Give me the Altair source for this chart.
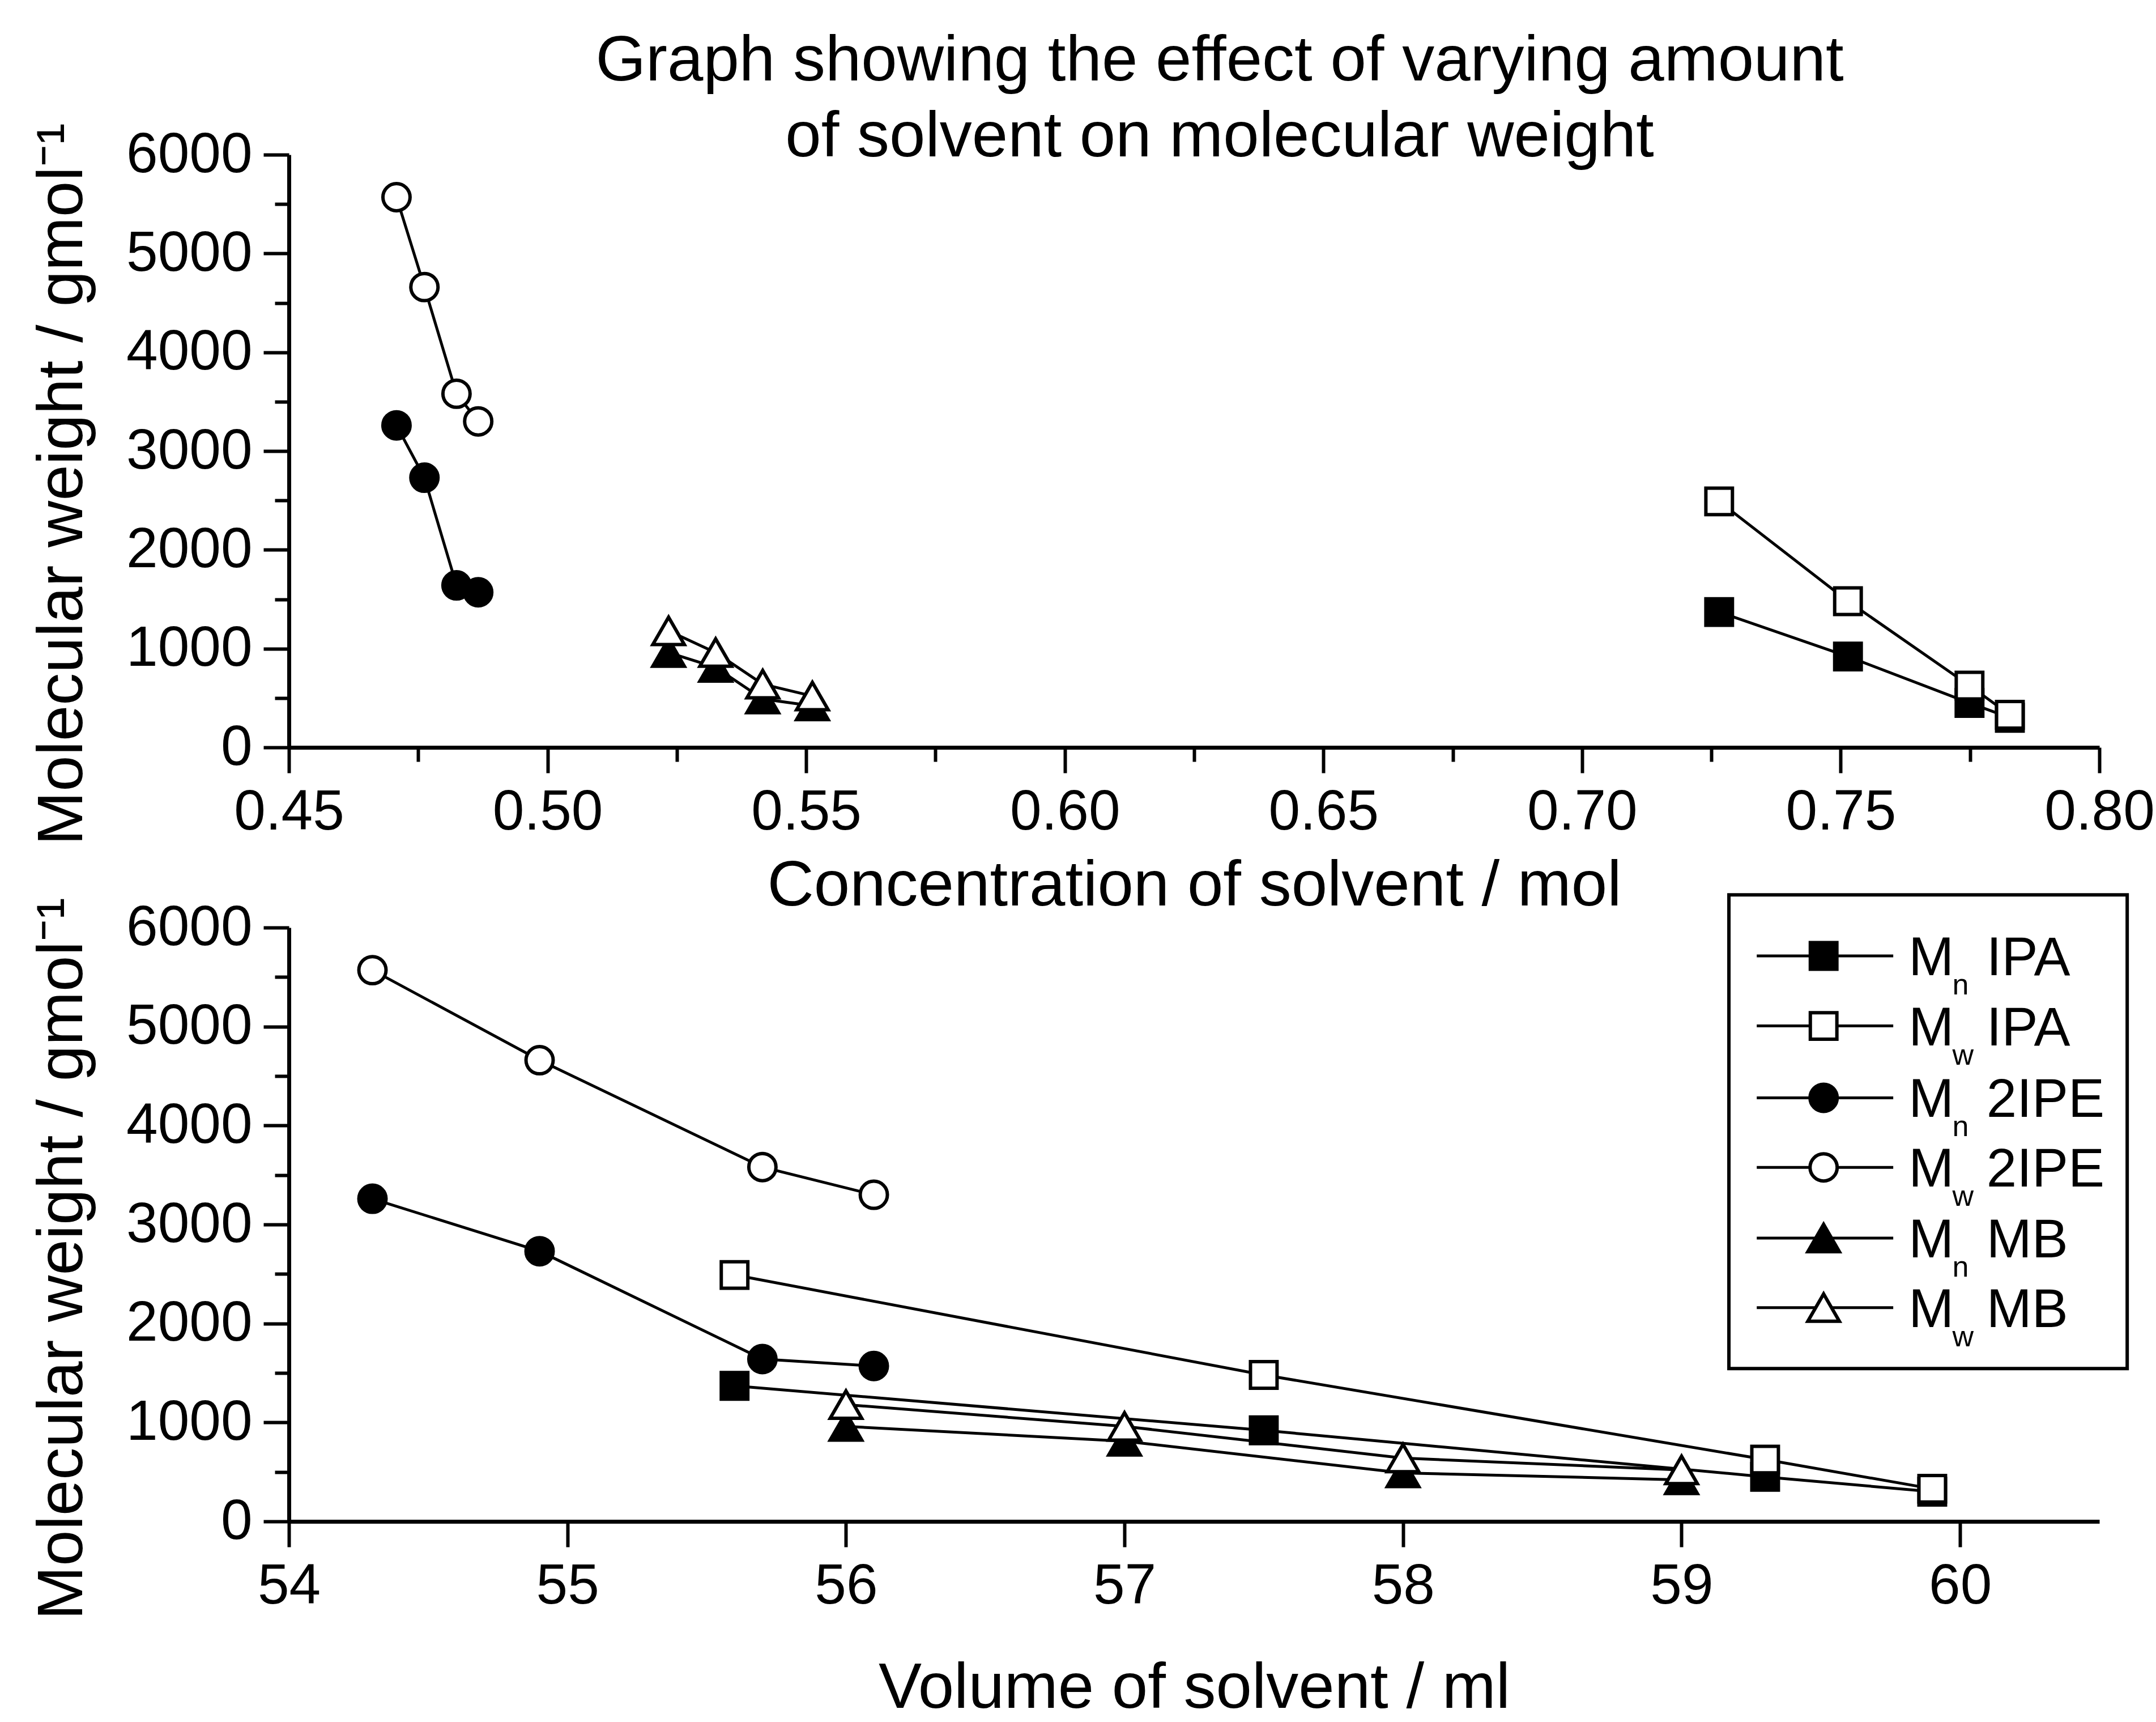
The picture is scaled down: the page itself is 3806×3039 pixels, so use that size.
import altair as alt
import pandas as pd

# ---------------- data ----------------
SERIES = ["Mn IPA", "Mw IPA", "Mn 2IPE", "Mw 2IPE", "Mn MB", "Mw MB"]
SUBSCRIPT = ["n", "w", "n", "w", "n", "w"]
SOLVENT = ["IPA", "IPA", "2IPE", "2IPE", "MB", "MB"]
SHAPES = ["square", "square", "circle", "circle", "triangle-up", "triangle-up"]
FILLS = ["black", "white", "black", "white", "black", "white"]

# concentration of solvent / mol
conc_ipa = [0.7265, 0.7514, 0.7749, 0.7827]
conc_2ipe = [0.4708, 0.4762, 0.4824, 0.4866]
conc_mb = [0.5234, 0.5325, 0.5416, 0.5512]

# volume of solvent / ml
vol_ipa = [55.6, 57.5, 59.3, 59.9]
vol_2ipe = [54.3, 54.9, 55.7, 56.1]
vol_mb = [56.0, 57.0, 58.0, 59.0]

# molecular weight / g mol-1
mn_ipa = [1370, 920, 450, 300]
mw_ipa = [2490, 1480, 625, 330]
mn_2ipe = [3260, 2730, 1640, 1570]
mw_2ipe = [5570, 4660, 3580, 3300]
mn_mb = [960, 810, 490, 420]
mw_mb = [1180, 960, 640, 520]

TOP_X_TICKS = [0.45, 0.475, 0.5, 0.525, 0.55, 0.575, 0.6, 0.625, 0.65,
               0.675, 0.7, 0.725, 0.75, 0.775, 0.8]
BOT_X_TICKS = [54, 54.5, 55, 55.5, 56, 56.5, 57, 57.5, 58, 58.5, 59, 59.5, 60, 60.5]
Y_TICKS = [0, 500, 1000, 1500, 2000, 2500, 3000, 3500, 4000, 4500, 5000, 5500, 6000]

# legend layout (in bottom-panel data units)
LEG_ROWS_Y = [5714, 5006, 4280, 3577, 2863, 2160]
LEG_BOX = dict(x=59.17, x2=60.60, y=6330, y2=1545)
LEG_LINE_X = (59.27, 59.76)
LEG_MARK_X = 59.51
LEG_M_X = 59.815
LEG_SUB_X = 59.972
LEG_TXT_X = 60.095

FONT = "Liberation Sans"
BIG = 114
TICK = 100

conc = {"IPA": conc_ipa, "2IPE": conc_2ipe, "MB": conc_mb}
vol = {"IPA": vol_ipa, "2IPE": vol_2ipe, "MB": vol_mb}
mw_vals = {"Mn IPA": mn_ipa, "Mw IPA": mw_ipa, "Mn 2IPE": mn_2ipe,
           "Mw 2IPE": mw_2ipe, "Mn MB": mn_mb, "Mw MB": mw_mb}


def table(xsrc):
    rows = []
    for s, solv in zip(SERIES, SOLVENT):
        for xv, yv in zip(xsrc[solv], mw_vals[s]):
            rows.append({"series": s, "x": xv, "mw": yv})
    return pd.DataFrame(rows)


df_top = table(conc)
df_bot = table(vol)

SIZE = {"square": 2200, "circle": 2300, "triangle-up": 3100}


def axis_x(vals, test, fmt, title, tpad):
    return alt.Axis(values=vals, format=fmt,
                    labelExpr=f"({test}) ? datum.label : ''",
                    tickSize={"condition": {"test": test, "value": 45}, "value": 25},
                    title=title, titlePadding=tpad, labelPadding=20,
                    labelFlush=False, labelOverlap=False, labelLimit=600)


def axis_y(title_y):
    t = "datum.value % 1000 === 0"
    return alt.Axis(values=Y_TICKS, format="d", labelExpr=f"({t}) ? datum.label : ''",
                    tickSize={"condition": {"test": t, "value": 45}, "value": 25},
                    title="Molecular weight / gmol\u207b\u00b9",
                    titleX=-400, titleY=title_y, titleBaseline="middle",
                    titleAlign="center", titleAngle=270,
                    labelPadding=20, labelFlush=False, labelOverlap=False, labelLimit=600)


def panel(df, xdom, axis, yaxis, extra=None):
    x = alt.X("x:Q", scale=alt.Scale(domain=xdom, nice=False, zero=False), axis=axis)
    y = alt.Y("mw:Q", scale=alt.Scale(domain=[0, 6000], nice=False), axis=yaxis)
    layers = [alt.Chart(df).mark_line(color="black", strokeWidth=5).encode(
        x=x, y=y, detail="series:N")]
    order = [0, 2, 4, 1, 3, 5]  # filled markers first, open ones on top
    for i in order:
        layers.append(
            alt.Chart(df).transform_filter(alt.datum.series == SERIES[i])
            .mark_point(shape=SHAPES[i], filled=True, fill=FILLS[i], stroke="black",
                        strokeWidth=6, size=SIZE[SHAPES[i]], opacity=1)
            .encode(x=x, y=y))
    if extra:
        layers += extra
    return layers


# ---------- legend (bottom panel) ----------
leg = pd.DataFrame({"series": SERIES, "sub": SUBSCRIPT, "solv": SOLVENT,
                    "y": LEG_ROWS_Y,
                    "x1": [LEG_LINE_X[0]] * 6, "x2": [LEG_LINE_X[1]] * 6,
                    "xm": [LEG_MARK_X] * 6, "xM": [LEG_M_X] * 6,
                    "xs": [LEG_SUB_X] * 6, "xt": [LEG_TXT_X] * 6,
                    "M": ["M"] * 6})
box = pd.DataFrame([LEG_BOX])

bx = dict(scale=alt.Scale(domain=[54, 60.5], nice=False, zero=False))
by = dict(scale=alt.Scale(domain=[0, 6000], nice=False))

legend_layers = [
    alt.Chart(box).mark_rect(fill="white", stroke="black", strokeWidth=6).encode(
        x=alt.X("x:Q", **bx), x2="x2:Q", y=alt.Y("y:Q", **by), y2="y2:Q"),
    alt.Chart(leg).mark_rule(color="black", strokeWidth=5).encode(
        x=alt.X("x1:Q", **bx), x2="x2:Q", y=alt.Y("y:Q", **by)),
]
for i in range(6):
    legend_layers.append(
        alt.Chart(leg).transform_filter(alt.datum.series == SERIES[i])
        .mark_point(shape=SHAPES[i], filled=True, fill=FILLS[i], stroke="black",
                    strokeWidth=6, size=SIZE[SHAPES[i]], opacity=1)
        .encode(x=alt.X("xm:Q", **bx), y=alt.Y("y:Q", **by)))
legend_layers += [
    alt.Chart(leg).mark_text(font=FONT, fontSize=96, align="left", baseline="alphabetic",
                             dy=34, color="black").encode(
        x=alt.X("xM:Q", **bx), y=alt.Y("y:Q", **by), text="M:N"),
    alt.Chart(leg).mark_text(font=FONT, fontSize=52, align="left", baseline="alphabetic",
                             dy=68, color="black").encode(
        x=alt.X("xs:Q", **bx), y=alt.Y("y:Q", **by), text="sub:N"),
    alt.Chart(leg).mark_text(font=FONT, fontSize=96, align="left", baseline="alphabetic",
                             dy=34, color="black").encode(
        x=alt.X("xt:Q", **bx), y=alt.Y("y:Q", **by), text="solv:N"),
]

top_axis = axis_x(TOP_X_TICKS, "abs(datum.value*20 - round(datum.value*20)) < 1e-6",
                  ".2f", "Concentration of solvent / mol", 24)
bot_axis = axis_x(BOT_X_TICKS, "abs(datum.value - round(datum.value)) < 1e-6",
                  "d", "Volume of solvent / ml", 74)

top = alt.layer(*panel(df_top, [0.45, 0.80], top_axis, axis_y(581))).properties(
    width=3196, height=1046,
    title=alt.TitleParams(
        text=["Graph showing the effect of varying amount", "of solvent on molecular weight"],
        font=FONT, fontSize=BIG, fontWeight="normal", color="black",
        anchor="middle", frame="group", dx=45, lineHeight=134, offset=-83))

bottom = alt.layer(*panel(df_bot, [54, 60.5], bot_axis, axis_y(584),
                          legend_layers)).properties(width=3196, height=1048)

chart = alt.vconcat(top, bottom, spacing=-44).properties(
    padding={"left": 53, "top": 50, "right": 0, "bottom": 0},
    background="white",
).configure_view(stroke=None).configure_axis(
    domainColor="black", domainWidth=7, tickColor="black", tickWidth=6,
    labelFont=FONT, labelFontSize=TICK, labelColor="black",
    titleFont=FONT, titleFontSize=BIG, titleFontWeight="normal", titleColor="black",
    grid=False,
)

chart.save("out.html", embed_options={"renderer": "svg", "actions": False})
